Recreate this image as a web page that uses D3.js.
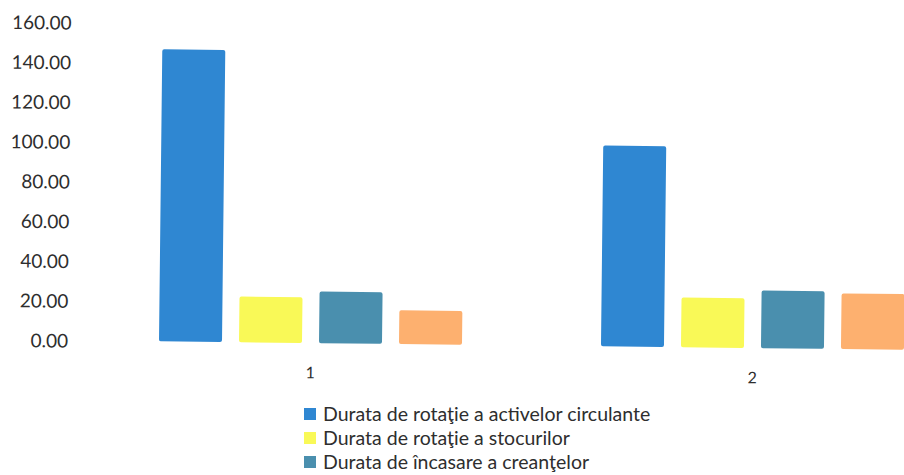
<!DOCTYPE html>
<html>
<head>
<meta charset="utf-8">
<script src="https://cdn.jsdelivr.net/npm/d3@7/dist/d3.min.js"></script>
<style>
  html, body { margin: 0; padding: 0; background: #ffffff; }
  svg { display: block; }
  text { font-family: Lato, "Open Sans", sans-serif; fill: #2e2e2e; }
</style>
</head>
<body>
<svg id="chart" width="904" height="475"></svg>
<script>
// Categories on the x axis
const categories = ["1", "2"];

// Series names (legend order)
const seriesNames = [
  "Durata de rotaţie a activelor circulante",
  "Durata de rotaţie a stocurilor",
  "Durata de încasare a creanţelor",
  "Durata de plată a furnizorilor"
];

// Values per series, one entry per category
const activeCirculante = [147, 101];
const stocuri = [23, 25];
const creante = [26, 29];
const furnizori = [17, 28];
const seriesValues = [activeCirculante, stocuri, creante, furnizori];

const seriesColors = ["#2f87d2", "#f9f957", "#4a8fae", "#fdb06f"];

// Y axis ticks
const yTicks = [0, 20, 40, 60, 80, 100, 120, 140, 160];

// Entries shown in the legend
const legendCount = 3;

const svg = d3.select("#chart");
svg.append("rect").attr("width", 904).attr("height", 475).attr("fill", "#ffffff");

// The plot sits slightly tilted, as on the printed page
const g = svg.append("g").attr("transform", "rotate(0.645, 190, 341.7)");

const y = d3.scaleLinear().domain([0, 160]).range([341.7, 23.7]);

const x0 = d3.scaleBand()
  .domain(categories)
  .range([89.5, 973.5])
  .paddingInner(0.276)
  .paddingOuter(0.138);

const x1 = d3.scaleBand()
  .domain(d3.range(seriesNames.length))
  .range([0, x0.bandwidth()])
  .paddingInner(17 / 80)
  .paddingOuter(17 / 160);

// Y axis labels (no axis line, no gridlines)
const yAxis = d3.axisLeft(y).tickValues(yTicks).tickFormat(d3.format(".2f")).tickSize(0).tickPadding(0);
const yG = g.append("g").attr("transform", "translate(68,0)").call(yAxis);
yG.select(".domain").remove();
yG.selectAll("text")
  .attr("font-family", "Lato, 'Open Sans', sans-serif")
  .attr("font-size", 19)
  .attr("fill", "#2e2e2e")
  .attr("dy", null)
  .attr("y", 6.8);

// Bars
const rows = [];
categories.forEach((c, ci) => {
  seriesValues.forEach((vals, si) => rows.push({ cat: c, s: si, v: vals[ci] }));
});

g.append("g").selectAll("rect")
  .data(rows)
  .join("rect")
  .attr("x", d => x0(d.cat) + x1(d.s))
  .attr("y", d => y(d.v))
  .attr("width", x1.bandwidth())
  .attr("height", d => y(0) - y(d.v))
  .attr("rx", 2)
  .attr("fill", d => seriesColors[d.s]);

// Category labels
const xAxis = d3.axisBottom(x0).tickSize(0).tickPadding(0);
const xG = g.append("g").attr("transform", "translate(0,377)").call(xAxis);
xG.select(".domain").remove();
xG.selectAll("text")
  .attr("font-family", "Lato, 'Open Sans', sans-serif")
  .attr("font-size", 16)
  .attr("fill", "#2e2e2e")
  .attr("dy", null)
  .attr("y", 0);

// Legend
const legend = svg.append("g").attr("transform", "translate(323,414)");
const items = legend.selectAll("g")
  .data(seriesNames.slice(0, legendCount))
  .join("g")
  .attr("transform", (d, i) => `translate(0,${i * 24})`);
items.append("rect")
  .attr("x", -19).attr("y", -6)
  .attr("width", 12).attr("height", 12)
  .attr("fill", (d, i) => seriesColors[i]);
items.append("text")
  .attr("x", 0).attr("y", 6.8)
  .attr("font-size", 19.5)
  .text(d => d);
</script>
</body>
</html>
